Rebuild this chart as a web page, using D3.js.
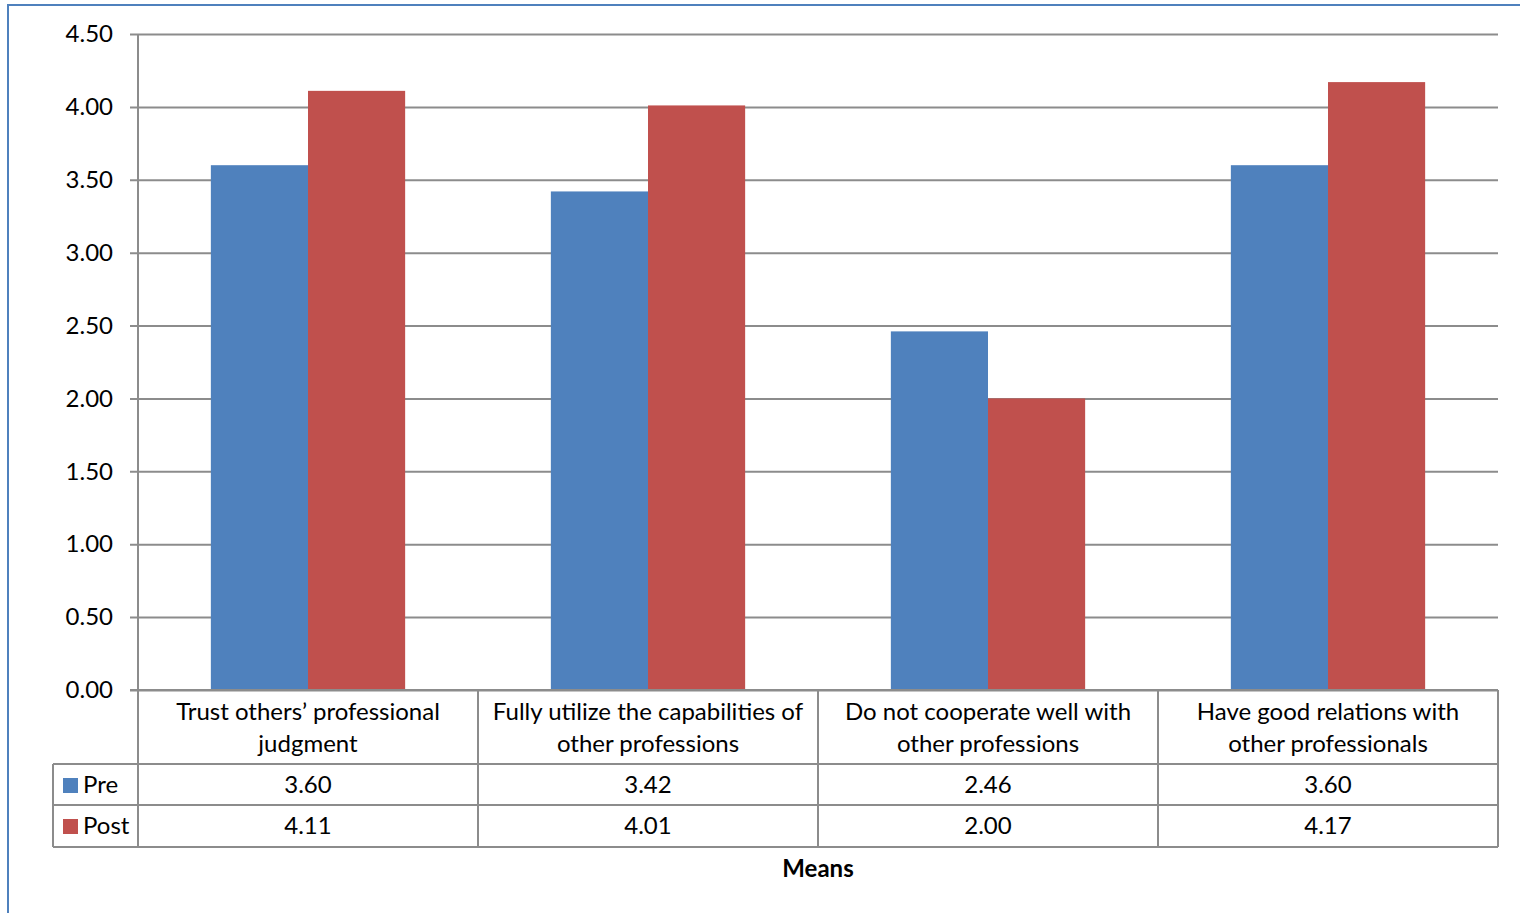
<html>
<head>
<script src="https://d3js.org/d3.v7.min.js"></script>
<style>
body { margin: 0; background: white; }
text { font-family: Lato, "Open Sans", sans-serif; fill: #000; }
</style>
</head>
<body>
<svg id="chart" width="1520" height="913"></svg>
<script>
// data
var categories = [
  ["Trust others\u2019 professional", "judgment"],
  ["Fully utilize the capabilities of", "other professions"],
  ["Do not cooperate well with", "other professions"],
  ["Have good relations with", "other professionals"]
];
var seriesNames = ["Pre", "Post"];
var preValues = [3.60, 3.42, 2.46, 3.60];
var postValues = [4.11, 4.01, 2.00, 4.17];
var yTicks = [0, 0.5, 1, 1.5, 2, 2.5, 3, 3.5, 4, 4.5];
var axisTitle = "Means";

var colors = ["#4f81bd", "#c0504d"];
var grid = "#8c8c8c";
var fs = 24;
var series = [preValues, postValues];

var svg = d3.select("#chart");

// outer frame
svg.append("rect").attr("x", 8).attr("y", 5).attr("width", 1530).attr("height", 930)
  .attr("fill", "none").attr("stroke", "#4f81bd").attr("stroke-width", 2);

var pLeft = 138, pRight = 1498, pTop = 34, pBottom = 690;
var x = d3.scaleBand().domain(d3.range(categories.length)).range([pLeft, pRight]);
var y = d3.scaleLinear().domain([0, 4.5]).range([pBottom, pTop]);
var xs = d3.scaleBand().domain(d3.range(2)).range([0, x.bandwidth()]).paddingInner(0).paddingOuter(0.75);

// gridlines + ticks
var ya = svg.append("g").attr("transform", "translate(" + pLeft + ",0)")
  .call(d3.axisLeft(y).tickValues(yTicks).tickFormat(d3.format(".2f")).tickSize(-(pRight - pLeft)).tickSizeOuter(0));
ya.select(".domain").remove();
ya.selectAll(".tick line").attr("stroke", grid).attr("stroke-width", 2).attr("x1", -8);
ya.selectAll(".tick text").attr("x", -25).attr("font-size", fs).attr("font-family", "Lato").attr("fill", "#000");

// bars
series.forEach(function(vals, s) {
  svg.append("g").selectAll("rect").data(vals).join("rect")
    .attr("x", function(d, i) { return x(i) + xs(s); })
    .attr("width", xs.bandwidth())
    .attr("y", function(d) { return y(d); })
    .attr("height", function(d) { return y(0) - y(d); })
    .attr("fill", colors[s]);
});

// y axis line
svg.append("line").attr("x1", pLeft).attr("x2", pLeft).attr("y1", pTop).attr("y2", pBottom)
  .attr("stroke", grid).attr("stroke-width", 2);

// data table
var row1 = 764, row2 = 805, row3 = 847, legLeft = 53;
var tl = svg.append("g").attr("stroke", grid).attr("stroke-width", 2);
tl.append("line").attr("x1", pLeft - 8).attr("x2", pRight).attr("y1", pBottom).attr("y2", pBottom);
[row1, row2, row3].forEach(function(yy) {
  tl.append("line").attr("x1", legLeft).attr("x2", pRight).attr("y1", yy).attr("y2", yy);
});
tl.append("line").attr("x1", legLeft).attr("x2", legLeft).attr("y1", row1).attr("y2", row3);
d3.range(categories.length + 1).forEach(function(i) {
  var xx = i < categories.length ? x(i) : pRight;
  tl.append("line").attr("x1", xx).attr("x2", xx).attr("y1", pBottom).attr("y2", row3);
});

categories.forEach(function(lines, i) {
  var cx = x(i) + x.bandwidth() / 2;
  lines.forEach(function(t, k) {
    svg.append("text").attr("x", cx).attr("y", 720 + k * 32).attr("text-anchor", "middle")
      .attr("font-size", fs).text(t);
  });
});

var rowsY = [793, 834];
series.forEach(function(vals, s) {
  svg.append("rect").attr("x", 63).attr("y", rowsY[s] - 15).attr("width", 15).attr("height", 15).attr("fill", colors[s]);
  svg.append("text").attr("x", 83).attr("y", rowsY[s]).attr("font-size", fs).text(seriesNames[s]);
  vals.forEach(function(v, i) {
    svg.append("text").attr("x", x(i) + x.bandwidth() / 2).attr("y", rowsY[s]).attr("text-anchor", "middle")
      .attr("font-size", fs).text(v.toFixed(2));
  });
});

svg.append("text").attr("x", (pLeft + pRight) / 2).attr("y", 877).attr("text-anchor", "middle")
  .attr("font-size", fs).attr("font-weight", "bold").text(axisTitle);
</script>
</body>
</html>
